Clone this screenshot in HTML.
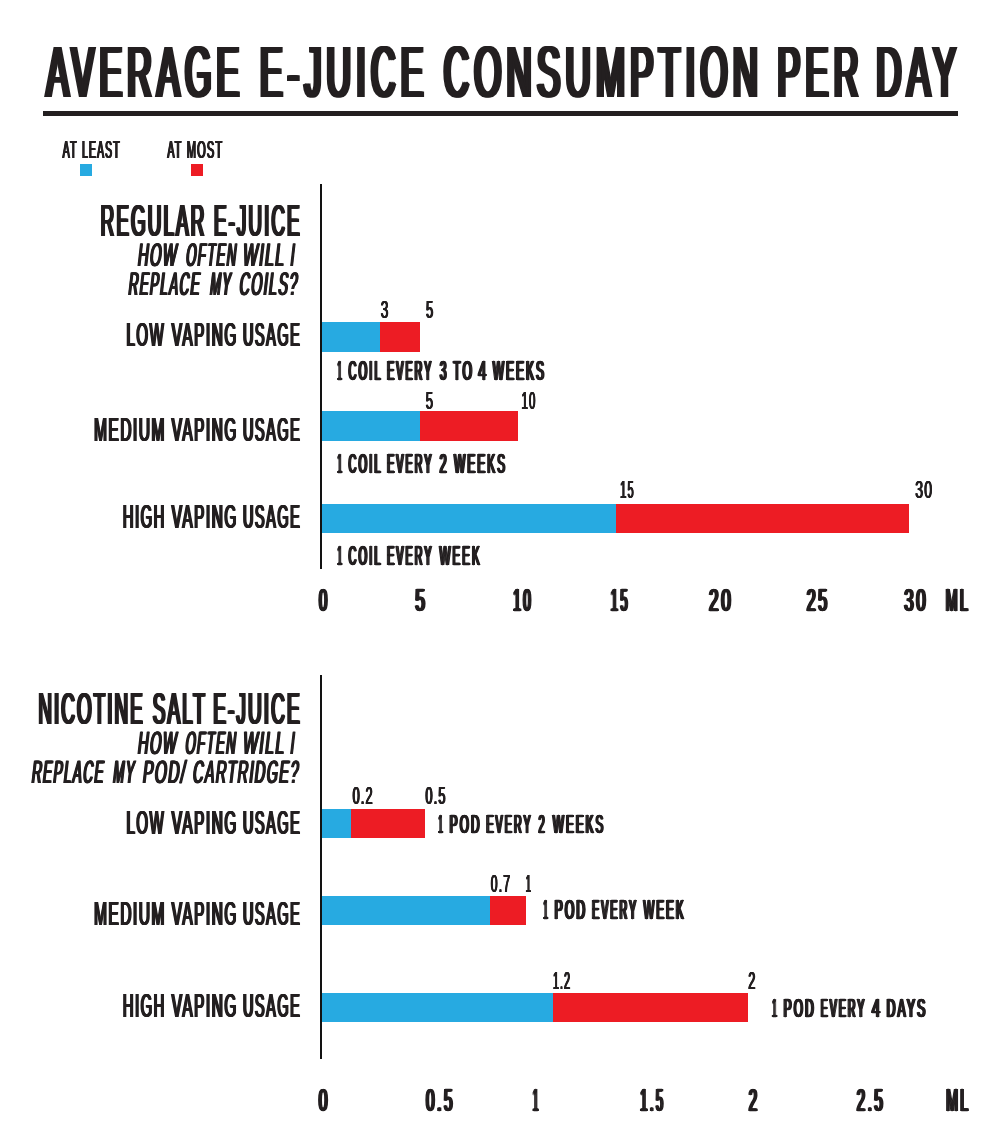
<!DOCTYPE html>
<html lang="en"><head><meta charset="utf-8"><title>Average E-Juice Consumption Per Day</title>
<style>
html,body{margin:0;padding:0;background:#fff}
body{width:1000px;height:1147px;position:relative;overflow:hidden;color:#231f20;font:bold 100px/100px "Liberation Sans",sans-serif}
.r{position:absolute}
.l{margin:0;font:inherit}
#txt{position:absolute;left:0;top:0;width:1000px;height:1147px;will-change:transform}
.l span{position:absolute;left:0;top:0;white-space:pre;transform-origin:0 0;display:block}
</style></head><body>
<div class="r" style="left:42.5px;top:111.4px;width:915px;height:4.6px;background:#231f20"></div>
<div class="r" style="left:80.2px;top:164.2px;width:12.2px;height:11.8px;background:#27aae1"></div>
<div class="r" style="left:190.6px;top:164.2px;width:12.4px;height:11.8px;background:#ed1c24"></div>
<div class="r" style="left:320.1px;top:184.2px;width:2.1px;height:385.2px;background:#121212"></div>
<div class="r" style="left:322px;top:322px;width:58px;height:29.75px;background:#27aae1"></div>
<div class="r" style="left:380px;top:322px;width:40px;height:29.75px;background:#ed1c24"></div>
<div class="r" style="left:322px;top:411.25px;width:98px;height:29.5px;background:#27aae1"></div>
<div class="r" style="left:420px;top:411.25px;width:98px;height:29.5px;background:#ed1c24"></div>
<div class="r" style="left:322px;top:503.9px;width:293.5px;height:29.35px;background:#27aae1"></div>
<div class="r" style="left:615.5px;top:503.9px;width:293.5px;height:29.35px;background:#ed1c24"></div>
<div class="r" style="left:320.1px;top:674.6px;width:2.1px;height:384.9px;background:#121212"></div>
<div class="r" style="left:322px;top:809px;width:28.75px;height:29px;background:#27aae1"></div>
<div class="r" style="left:350.75px;top:809px;width:73.75px;height:29px;background:#ed1c24"></div>
<div class="r" style="left:322px;top:895.75px;width:168px;height:29px;background:#27aae1"></div>
<div class="r" style="left:490px;top:895.75px;width:35.5px;height:29px;background:#ed1c24"></div>
<div class="r" style="left:322px;top:992.5px;width:230.5px;height:29.5px;background:#27aae1"></div>
<div class="r" style="left:552.5px;top:992.5px;width:195.2px;height:29.5px;background:#ed1c24"></div>
<div id="txt">
<div class="l"><span style="font-weight:normal;transform:matrix(0.3386,0,0,0.7267,46.15,35.23);letter-spacing:15.65px;text-shadow:6.65px 0 0,-6.65px 0 0,3.32px 0 0,-3.32px 0 0">AVERAGE</span> <span style="font-weight:normal;transform:matrix(0.3376,0,0,0.7267,260.05,35.23);letter-spacing:15.70px;text-shadow:6.66px 0 0,-6.66px 0 0,3.33px 0 0,-3.33px 0 0">E-JUICE</span> <span style="font-weight:normal;transform:matrix(0.3482,0,0,0.7267,443.77,35.23);letter-spacing:15.22px;text-shadow:6.46px 0 0,-6.46px 0 0,3.23px 0 0,-3.23px 0 0">CONSUMPTION</span> <span style="font-weight:normal;transform:matrix(0.3418,0,0,0.7267,777.46,35.23);letter-spacing:15.50px;text-shadow:6.58px 0 0,-6.58px 0 0,3.29px 0 0,-3.29px 0 0">PER</span> <span style="font-weight:normal;transform:matrix(0.3491,0,0,0.7267,876.37,35.23);letter-spacing:15.18px;text-shadow:6.44px 0 0,-6.44px 0 0,3.22px 0 0,-3.22px 0 0">DAY</span></div>
<div class="l"><span style="font-weight:normal;transform:matrix(0.1062,0,0,0.2471,62.59,136.80);letter-spacing:10.89px;text-shadow:6.24px 0 0,-6.24px 0 0,3.12px 0 0,-3.12px 0 0">AT</span> <span style="font-weight:normal;transform:matrix(0.1036,0,0,0.2471,82.12,136.80);letter-spacing:11.16px;text-shadow:6.40px 0 0,-6.40px 0 0,3.20px 0 0,-3.20px 0 0">LEAST</span></div>
<div class="l"><span style="font-weight:normal;transform:matrix(0.1062,0,0,0.2471,167.31,136.80);letter-spacing:10.88px;text-shadow:6.24px 0 0,-6.24px 0 0,3.12px 0 0,-3.12px 0 0">AT</span> <span style="font-weight:normal;transform:matrix(0.1100,0,0,0.2471,186.79,136.80);letter-spacing:10.50px;text-shadow:6.02px 0 0,-6.02px 0 0,3.01px 0 0,-3.01px 0 0">MOST</span></div>
<div class="l"><span style="font-weight:normal;transform:matrix(0.1889,0,0,0.4419,100.62,198.44);letter-spacing:10.94px;text-shadow:6.28px 0 0,-6.28px 0 0,3.14px 0 0,-3.14px 0 0">REGULAR</span> <span style="font-weight:normal;transform:matrix(0.1884,0,0,0.4419,213.94,198.44);letter-spacing:10.97px;text-shadow:6.29px 0 0,-6.29px 0 0,3.15px 0 0,-3.15px 0 0">E-JUICE</span></div>
<div class="l"><span style="font-weight:normal;transform:matrix(0.1452,0,-0.0373,0.3270,140.27,237.80);letter-spacing:10.54px;text-shadow:6.04px 0 0,-6.04px 0 0,3.02px 0 0,-3.02px 0 0">HOW</span> <span style="font-weight:normal;transform:matrix(0.1293,0,-0.0373,0.3270,188.47,237.80);letter-spacing:11.84px;text-shadow:6.79px 0 0,-6.79px 0 0,3.39px 0 0,-3.39px 0 0">OFTEN</span> <span style="font-weight:normal;transform:matrix(0.1567,0,-0.0373,0.3270,245.22,237.80);letter-spacing:9.76px;text-shadow:5.60px 0 0,-5.60px 0 0,2.80px 0 0,-2.80px 0 0">WILL</span> <span style="font-weight:normal;transform:matrix(0.1271,0,-0.0373,0.3270,293.00,237.80);letter-spacing:12.04px;text-shadow:6.91px 0 0,-6.91px 0 0,3.45px 0 0,-3.45px 0 0">I</span></div>
<div class="l"><span style="font-weight:normal;transform:matrix(0.1319,0,-0.0373,0.3270,130.96,266.95);letter-spacing:11.60px;text-shadow:6.65px 0 0,-6.65px 0 0,3.33px 0 0,-3.33px 0 0">REPLACE</span> <span style="font-weight:normal;transform:matrix(0.1256,0,-0.0373,0.3270,212.43,266.95);letter-spacing:12.18px;text-shadow:6.99px 0 0,-6.99px 0 0,3.49px 0 0,-3.49px 0 0">MY</span> <span style="font-weight:normal;transform:matrix(0.1405,0,-0.0373,0.3270,241.83,266.95);letter-spacing:10.89px;text-shadow:6.24px 0 0,-6.24px 0 0,3.12px 0 0,-3.12px 0 0">COILS?</span></div>
<div class="l"><span style="font-weight:normal;transform:matrix(0.1499,0,0,0.3328,126.51,317.71);letter-spacing:10.39px;text-shadow:5.96px 0 0,-5.96px 0 0,2.98px 0 0,-2.98px 0 0">LOW</span> <span style="font-weight:normal;transform:matrix(0.1532,0,0,0.3328,171.75,317.71);letter-spacing:10.17px;text-shadow:5.83px 0 0,-5.83px 0 0,2.92px 0 0,-2.92px 0 0">VAPING</span> <span style="font-weight:normal;transform:matrix(0.1443,0,0,0.3328,242.99,317.71);letter-spacing:10.79px;text-shadow:6.19px 0 0,-6.19px 0 0,3.10px 0 0,-3.10px 0 0">USAGE</span></div>
<div class="l"><span style="font-weight:normal;transform:matrix(0.1541,0,0,0.3328,94.05,412.71);letter-spacing:10.10px;text-shadow:5.79px 0 0,-5.79px 0 0,2.90px 0 0,-2.90px 0 0">MEDIUM</span> <span style="font-weight:normal;transform:matrix(0.1532,0,0,0.3328,171.75,412.71);letter-spacing:10.17px;text-shadow:5.83px 0 0,-5.83px 0 0,2.92px 0 0,-2.92px 0 0">VAPING</span> <span style="font-weight:normal;transform:matrix(0.1443,0,0,0.3328,242.99,412.71);letter-spacing:10.79px;text-shadow:6.19px 0 0,-6.19px 0 0,3.10px 0 0,-3.10px 0 0">USAGE</span></div>
<div class="l"><span style="font-weight:normal;transform:matrix(0.1474,0,0,0.3328,122.83,500.11);letter-spacing:10.57px;text-shadow:6.06px 0 0,-6.06px 0 0,3.03px 0 0,-3.03px 0 0">HIGH</span> <span style="font-weight:normal;transform:matrix(0.1532,0,0,0.3328,171.75,500.11);letter-spacing:10.17px;text-shadow:5.83px 0 0,-5.83px 0 0,2.92px 0 0,-2.92px 0 0">VAPING</span> <span style="font-weight:normal;transform:matrix(0.1443,0,0,0.3328,242.99,500.11);letter-spacing:10.79px;text-shadow:6.19px 0 0,-6.19px 0 0,3.10px 0 0,-3.10px 0 0">USAGE</span></div>
<div class="l"><span style="font-weight:normal;transform:matrix(0.1366,0,0,0.2471,380.70,296.80);letter-spacing:8.21px;text-shadow:4.11px 0 0,-4.11px 0 0,2.05px 0 0,-2.05px 0 0">3</span></div>
<div class="l"><span style="font-weight:normal;transform:matrix(0.1265,0,0,0.2471,426.08,296.80);letter-spacing:8.87px;text-shadow:4.43px 0 0,-4.43px 0 0,2.22px 0 0,-2.22px 0 0">5</span></div>
<div class="l"><span style="font-weight:normal;transform:matrix(0.1310,0,0,0.2442,425.80,387.84);letter-spacing:8.46px;text-shadow:4.23px 0 0,-4.23px 0 0,2.12px 0 0,-2.12px 0 0">5</span></div>
<div class="l"><span style="font-weight:normal;transform:matrix(0.1142,0,0,0.2442,521.47,387.84);letter-spacing:9.71px;text-shadow:4.86px 0 0,-4.86px 0 0,2.43px 0 0,-2.43px 0 0">10</span></div>
<div class="l"><span style="font-weight:normal;transform:matrix(0.1104,0,0,0.2456,620.18,476.72);letter-spacing:10.11px;text-shadow:5.05px 0 0,-5.05px 0 0,2.53px 0 0,-2.53px 0 0">15</span></div>
<div class="l"><span style="font-weight:normal;transform:matrix(0.1411,0,0,0.2456,915.25,476.72);letter-spacing:7.90px;text-shadow:3.95px 0 0,-3.95px 0 0,1.98px 0 0,-1.98px 0 0">30</span></div>
<div class="l"><span style="font-weight:normal;-webkit-text-stroke:2.27px;transform:matrix(0.0753,0,0,0.2708,337.54,357.17);letter-spacing:28.62px;text-shadow:14.31px 0 0,-14.31px 0 0,7.16px 0 0,-7.16px 0 0">1</span> <span style="font-weight:normal;-webkit-text-stroke:2.27px;transform:matrix(0.1094,0,0,0.2708,348.54,357.17);letter-spacing:19.70px;text-shadow:9.85px 0 0,-9.85px 0 0,4.93px 0 0,-4.93px 0 0">COIL</span> <span style="font-weight:normal;-webkit-text-stroke:2.27px;transform:matrix(0.1052,0,0,0.2708,387.16,357.17);letter-spacing:20.50px;text-shadow:10.25px 0 0,-10.25px 0 0,5.12px 0 0,-5.12px 0 0">EVERY</span> <span style="font-weight:normal;-webkit-text-stroke:2.27px;transform:matrix(0.1168,0,0,0.2708,439.90,357.17);letter-spacing:18.47px;text-shadow:9.23px 0 0,-9.23px 0 0,4.62px 0 0,-4.62px 0 0">3</span> <span style="font-weight:normal;-webkit-text-stroke:2.27px;transform:matrix(0.1203,0,0,0.2708,453.27,357.17);letter-spacing:17.93px;text-shadow:8.96px 0 0,-8.96px 0 0,4.48px 0 0,-4.48px 0 0">TO</span> <span style="font-weight:normal;-webkit-text-stroke:2.27px;transform:matrix(0.1440,0,0,0.2708,478.25,357.17);letter-spacing:14.97px;text-shadow:7.49px 0 0,-7.49px 0 0,3.74px 0 0,-3.74px 0 0">4</span> <span style="font-weight:normal;-webkit-text-stroke:2.27px;transform:matrix(0.1174,0,0,0.2708,492.94,357.17);letter-spacing:18.36px;text-shadow:9.18px 0 0,-9.18px 0 0,4.59px 0 0,-4.59px 0 0">WEEKS</span></div>
<div class="l"><span style="font-weight:normal;-webkit-text-stroke:2.27px;transform:matrix(0.0791,0,0,0.2673,337.51,450.47);letter-spacing:26.90px;text-shadow:13.45px 0 0,-13.45px 0 0,6.72px 0 0,-6.72px 0 0">1</span> <span style="font-weight:normal;-webkit-text-stroke:2.27px;transform:matrix(0.1097,0,0,0.2673,348.53,450.47);letter-spacing:19.39px;text-shadow:9.70px 0 0,-9.70px 0 0,4.85px 0 0,-4.85px 0 0">COIL</span> <span style="font-weight:normal;-webkit-text-stroke:2.27px;transform:matrix(0.1060,0,0,0.2673,387.15,450.47);letter-spacing:20.08px;text-shadow:10.04px 0 0,-10.04px 0 0,5.02px 0 0,-5.02px 0 0">EVERY</span> <span style="font-weight:normal;-webkit-text-stroke:2.27px;transform:matrix(0.1246,0,0,0.2673,439.67,450.47);letter-spacing:17.08px;text-shadow:8.54px 0 0,-8.54px 0 0,4.27px 0 0,-4.27px 0 0">2</span> <span style="font-weight:normal;-webkit-text-stroke:2.27px;transform:matrix(0.1174,0,0,0.2673,454.15,450.47);letter-spacing:18.13px;text-shadow:9.07px 0 0,-9.07px 0 0,4.53px 0 0,-4.53px 0 0">WEEKS</span></div>
<div class="l"><span style="font-weight:normal;-webkit-text-stroke:2.27px;transform:matrix(0.0791,0,0,0.2673,337.51,541.97);letter-spacing:26.90px;text-shadow:13.45px 0 0,-13.45px 0 0,6.72px 0 0,-6.72px 0 0">1</span> <span style="font-weight:normal;-webkit-text-stroke:2.27px;transform:matrix(0.1097,0,0,0.2673,348.53,541.97);letter-spacing:19.39px;text-shadow:9.70px 0 0,-9.70px 0 0,4.85px 0 0,-4.85px 0 0">COIL</span> <span style="font-weight:normal;-webkit-text-stroke:2.27px;transform:matrix(0.1060,0,0,0.2673,387.15,541.97);letter-spacing:20.08px;text-shadow:10.04px 0 0,-10.04px 0 0,5.02px 0 0,-5.02px 0 0">EVERY</span> <span style="font-weight:normal;-webkit-text-stroke:2.27px;transform:matrix(0.1142,0,0,0.2673,439.62,541.97);letter-spacing:18.63px;text-shadow:9.31px 0 0,-9.31px 0 0,4.66px 0 0,-4.66px 0 0">WEEK</span></div>
<div class="l"><span style="font-weight:normal;-webkit-text-stroke:2.27px;transform:matrix(0.1484,0,0,0.3166,318.99,583.98);letter-spacing:16.98px;text-shadow:8.49px 0 0,-8.49px 0 0,4.25px 0 0,-4.25px 0 0">0</span></div>
<div class="l"><span style="font-weight:normal;-webkit-text-stroke:2.27px;transform:matrix(0.1721,0,0,0.3166,415.37,583.98);letter-spacing:14.65px;text-shadow:7.32px 0 0,-7.32px 0 0,3.66px 0 0,-3.66px 0 0">5</span></div>
<div class="l"><span style="font-weight:normal;-webkit-text-stroke:2.27px;transform:matrix(0.1362,0,0,0.3166,513.19,583.98);letter-spacing:18.50px;text-shadow:9.25px 0 0,-9.25px 0 0,4.63px 0 0,-4.63px 0 0">10</span></div>
<div class="l"><span style="font-weight:normal;-webkit-text-stroke:2.27px;transform:matrix(0.1272,0,0,0.3166,610.82,583.98);letter-spacing:19.81px;text-shadow:9.91px 0 0,-9.91px 0 0,4.95px 0 0,-4.95px 0 0">15</span></div>
<div class="l"><span style="font-weight:normal;-webkit-text-stroke:2.27px;transform:matrix(0.1718,0,0,0.3166,709.10,583.98);letter-spacing:14.67px;text-shadow:7.33px 0 0,-7.33px 0 0,3.67px 0 0,-3.67px 0 0">20</span></div>
<div class="l"><span style="font-weight:normal;-webkit-text-stroke:2.27px;transform:matrix(0.1613,0,0,0.3166,806.69,583.98);letter-spacing:15.63px;text-shadow:7.81px 0 0,-7.81px 0 0,3.91px 0 0,-3.91px 0 0">25</span></div>
<div class="l"><span style="font-weight:normal;-webkit-text-stroke:2.27px;transform:matrix(0.1696,0,0,0.3166,904.22,583.98);letter-spacing:14.86px;text-shadow:7.43px 0 0,-7.43px 0 0,3.72px 0 0,-3.72px 0 0">30</span></div>
<div class="l"><span style="font-weight:normal;-webkit-text-stroke:2.27px;transform:matrix(0.1411,0,0,0.3166,945.82,583.98);letter-spacing:17.86px;text-shadow:8.93px 0 0,-8.93px 0 0,4.46px 0 0,-4.46px 0 0">ML</span></div>
<div class="l"><span style="font-weight:normal;transform:matrix(0.1880,0,0,0.4433,38.36,686.57);letter-spacing:11.03px;text-shadow:6.33px 0 0,-6.33px 0 0,3.16px 0 0,-3.16px 0 0">NICOTINE</span> <span style="font-weight:normal;transform:matrix(0.1890,0,0,0.4433,152.76,686.57);letter-spacing:10.97px;text-shadow:6.29px 0 0,-6.29px 0 0,3.15px 0 0,-3.15px 0 0">SALT</span> <span style="font-weight:normal;transform:matrix(0.1900,0,0,0.4433,213.28,686.57);letter-spacing:10.92px;text-shadow:6.26px 0 0,-6.26px 0 0,3.13px 0 0,-3.13px 0 0">E-JUICE</span></div>
<div class="l"><span style="font-weight:normal;transform:matrix(0.1447,0,-0.0368,0.3227,140.24,726.27);letter-spacing:10.43px;text-shadow:5.98px 0 0,-5.98px 0 0,2.99px 0 0,-2.99px 0 0">HOW</span> <span style="font-weight:normal;transform:matrix(0.1300,0,-0.0368,0.3227,187.69,726.27);letter-spacing:11.61px;text-shadow:6.66px 0 0,-6.66px 0 0,3.33px 0 0,-3.33px 0 0">OFTEN</span> <span style="font-weight:normal;transform:matrix(0.1563,0,-0.0368,0.3227,245.34,726.27);letter-spacing:9.66px;text-shadow:5.54px 0 0,-5.54px 0 0,2.77px 0 0,-2.77px 0 0">WILL</span> <span style="font-weight:normal;transform:matrix(0.1203,0,-0.0368,0.3227,292.96,726.27);letter-spacing:12.54px;text-shadow:7.19px 0 0,-7.19px 0 0,3.60px 0 0,-3.60px 0 0">I</span></div>
<div class="l"><span style="font-weight:normal;transform:matrix(0.1336,0,-0.0368,0.3227,34.14,755.17);letter-spacing:11.30px;text-shadow:6.48px 0 0,-6.48px 0 0,3.24px 0 0,-3.24px 0 0">REPLACE</span> <span style="font-weight:normal;transform:matrix(0.1307,0,-0.0368,0.3227,115.47,755.17);letter-spacing:11.55px;text-shadow:6.63px 0 0,-6.63px 0 0,3.31px 0 0,-3.31px 0 0">MY</span> <span style="font-weight:normal;transform:matrix(0.1538,0,-0.0368,0.3227,145.20,755.17);letter-spacing:9.82px;text-shadow:5.63px 0 0,-5.63px 0 0,2.81px 0 0,-2.81px 0 0">POD/</span> <span style="font-weight:normal;transform:matrix(0.1423,0,-0.0368,0.3227,195.35,755.17);letter-spacing:10.61px;text-shadow:6.08px 0 0,-6.08px 0 0,3.04px 0 0,-3.04px 0 0">CARTRIDGE?</span></div>
<div class="l"><span style="font-weight:normal;transform:matrix(0.1499,0,0,0.3328,126.51,806.01);letter-spacing:10.39px;text-shadow:5.96px 0 0,-5.96px 0 0,2.98px 0 0,-2.98px 0 0">LOW</span> <span style="font-weight:normal;transform:matrix(0.1532,0,0,0.3328,171.75,806.01);letter-spacing:10.17px;text-shadow:5.83px 0 0,-5.83px 0 0,2.92px 0 0,-2.92px 0 0">VAPING</span> <span style="font-weight:normal;transform:matrix(0.1443,0,0,0.3328,242.99,806.01);letter-spacing:10.79px;text-shadow:6.19px 0 0,-6.19px 0 0,3.10px 0 0,-3.10px 0 0">USAGE</span></div>
<div class="l"><span style="font-weight:normal;transform:matrix(0.1541,0,0,0.3328,94.05,896.91);letter-spacing:10.10px;text-shadow:5.79px 0 0,-5.79px 0 0,2.90px 0 0,-2.90px 0 0">MEDIUM</span> <span style="font-weight:normal;transform:matrix(0.1532,0,0,0.3328,171.75,896.91);letter-spacing:10.17px;text-shadow:5.83px 0 0,-5.83px 0 0,2.92px 0 0,-2.92px 0 0">VAPING</span> <span style="font-weight:normal;transform:matrix(0.1443,0,0,0.3328,242.99,896.91);letter-spacing:10.79px;text-shadow:6.19px 0 0,-6.19px 0 0,3.10px 0 0,-3.10px 0 0">USAGE</span></div>
<div class="l"><span style="font-weight:normal;transform:matrix(0.1474,0,0,0.3328,122.83,989.21);letter-spacing:10.57px;text-shadow:6.06px 0 0,-6.06px 0 0,3.03px 0 0,-3.03px 0 0">HIGH</span> <span style="font-weight:normal;transform:matrix(0.1532,0,0,0.3328,171.75,989.21);letter-spacing:10.17px;text-shadow:5.83px 0 0,-5.83px 0 0,2.92px 0 0,-2.92px 0 0">VAPING</span> <span style="font-weight:normal;transform:matrix(0.1443,0,0,0.3328,242.99,989.21);letter-spacing:10.79px;text-shadow:6.19px 0 0,-6.19px 0 0,3.10px 0 0,-3.10px 0 0">USAGE</span></div>
<div class="l"><span style="font-weight:normal;transform:matrix(0.1281,0,0,0.2471,352.57,782.60);letter-spacing:8.76px;text-shadow:4.38px 0 0,-4.38px 0 0,2.19px 0 0,-2.19px 0 0">0.2</span></div>
<div class="l"><span style="font-weight:normal;transform:matrix(0.1279,0,0,0.2471,425.43,782.60);letter-spacing:8.77px;text-shadow:4.39px 0 0,-4.39px 0 0,2.19px 0 0,-2.19px 0 0">0.5</span></div>
<div class="l"><span style="font-weight:normal;transform:matrix(0.1223,0,0,0.2471,490.78,871.20);letter-spacing:9.18px;text-shadow:4.59px 0 0,-4.59px 0 0,2.29px 0 0,-2.29px 0 0">0.7</span></div>
<div class="l"><span style="font-weight:normal;transform:matrix(0.0888,0,0,0.2471,525.86,871.20);letter-spacing:12.63px;text-shadow:6.32px 0 0,-6.32px 0 0,3.16px 0 0,-3.16px 0 0">1</span></div>
<div class="l"><span style="font-weight:normal;transform:matrix(0.1061,0,0,0.2485,552.98,967.57);letter-spacing:10.64px;text-shadow:5.32px 0 0,-5.32px 0 0,2.66px 0 0,-2.66px 0 0">1.2</span></div>
<div class="l"><span style="font-weight:normal;transform:matrix(0.1250,0,0,0.2485,748.33,967.57);letter-spacing:9.03px;text-shadow:4.51px 0 0,-4.51px 0 0,2.26px 0 0,-2.26px 0 0">2</span></div>
<div class="l"><span style="font-weight:normal;-webkit-text-stroke:2.27px;transform:matrix(0.0745,0,0,0.2638,438.43,811.03);letter-spacing:28.20px;text-shadow:14.10px 0 0,-14.10px 0 0,7.05px 0 0,-7.05px 0 0">1</span> <span style="font-weight:normal;-webkit-text-stroke:2.27px;transform:matrix(0.1186,0,0,0.2638,449.67,811.03);letter-spacing:17.71px;text-shadow:8.85px 0 0,-8.85px 0 0,4.43px 0 0,-4.43px 0 0">POD</span> <span style="font-weight:normal;-webkit-text-stroke:2.27px;transform:matrix(0.1063,0,0,0.2638,486.38,811.03);letter-spacing:19.75px;text-shadow:9.87px 0 0,-9.87px 0 0,4.94px 0 0,-4.94px 0 0">EVERY</span> <span style="font-weight:normal;-webkit-text-stroke:2.27px;transform:matrix(0.1113,0,0,0.2638,538.56,811.03);letter-spacing:18.87px;text-shadow:9.44px 0 0,-9.44px 0 0,4.72px 0 0,-4.72px 0 0">2</span> <span style="font-weight:normal;-webkit-text-stroke:2.27px;transform:matrix(0.1161,0,0,0.2638,552.92,811.03);letter-spacing:18.10px;text-shadow:9.05px 0 0,-9.05px 0 0,4.52px 0 0,-4.52px 0 0">WEEKS</span></div>
<div class="l"><span style="font-weight:normal;-webkit-text-stroke:2.27px;transform:matrix(0.0752,0,0,0.2708,543.48,895.92);letter-spacing:28.68px;text-shadow:14.34px 0 0,-14.34px 0 0,7.17px 0 0,-7.17px 0 0">1</span> <span style="font-weight:normal;-webkit-text-stroke:2.27px;transform:matrix(0.1207,0,0,0.2708,554.62,895.92);letter-spacing:17.86px;text-shadow:8.93px 0 0,-8.93px 0 0,4.47px 0 0,-4.47px 0 0">POD</span> <span style="font-weight:normal;-webkit-text-stroke:2.27px;transform:matrix(0.1046,0,0,0.2708,592.18,895.92);letter-spacing:20.61px;text-shadow:10.30px 0 0,-10.30px 0 0,5.15px 0 0,-5.15px 0 0">EVERY</span> <span style="font-weight:normal;-webkit-text-stroke:2.27px;transform:matrix(0.1138,0,0,0.2708,643.53,895.92);letter-spacing:18.94px;text-shadow:9.47px 0 0,-9.47px 0 0,4.73px 0 0,-4.73px 0 0">WEEK</span></div>
<div class="l"><span style="font-weight:normal;-webkit-text-stroke:2.27px;transform:matrix(0.0771,0,0,0.2659,772.34,994.59);letter-spacing:27.47px;text-shadow:13.73px 0 0,-13.73px 0 0,6.87px 0 0,-6.87px 0 0">1</span> <span style="font-weight:normal;-webkit-text-stroke:2.27px;transform:matrix(0.1190,0,0,0.2659,783.67,994.59);letter-spacing:17.79px;text-shadow:8.90px 0 0,-8.90px 0 0,4.45px 0 0,-4.45px 0 0">POD</span> <span style="font-weight:normal;-webkit-text-stroke:2.27px;transform:matrix(0.1039,0,0,0.2659,820.78,994.59);letter-spacing:20.38px;text-shadow:10.19px 0 0,-10.19px 0 0,5.09px 0 0,-5.09px 0 0">EVERY</span> <span style="font-weight:normal;-webkit-text-stroke:2.27px;transform:matrix(0.1463,0,0,0.2659,871.88,994.59);letter-spacing:14.47px;text-shadow:7.23px 0 0,-7.23px 0 0,3.62px 0 0,-3.62px 0 0">4</span> <span style="font-weight:normal;-webkit-text-stroke:2.27px;transform:matrix(0.1221,0,0,0.2659,886.59,994.59);letter-spacing:17.33px;text-shadow:8.67px 0 0,-8.67px 0 0,4.33px 0 0,-4.33px 0 0">DAYS</span></div>
<div class="l"><span style="font-weight:normal;-webkit-text-stroke:2.27px;transform:matrix(0.1574,0,0,0.3166,318.69,1083.98);letter-spacing:16.01px;text-shadow:8.01px 0 0,-8.01px 0 0,4.00px 0 0,-4.00px 0 0">0</span></div>
<div class="l"><span style="font-weight:normal;-webkit-text-stroke:2.27px;transform:matrix(0.1531,0,0,0.3166,426.10,1083.98);letter-spacing:16.46px;text-shadow:8.23px 0 0,-8.23px 0 0,4.11px 0 0,-4.11px 0 0">0.5</span></div>
<div class="l"><span style="font-weight:normal;-webkit-text-stroke:2.27px;transform:matrix(0.0921,0,0,0.3166,533.11,1083.98);letter-spacing:27.35px;text-shadow:13.67px 0 0,-13.67px 0 0,6.84px 0 0,-6.84px 0 0">1</span></div>
<div class="l"><span style="font-weight:normal;-webkit-text-stroke:2.27px;transform:matrix(0.1274,0,0,0.3166,640.33,1083.98);letter-spacing:19.78px;text-shadow:9.89px 0 0,-9.89px 0 0,4.94px 0 0,-4.94px 0 0">1.5</span></div>
<div class="l"><span style="font-weight:normal;-webkit-text-stroke:2.27px;transform:matrix(0.1515,0,0,0.3166,748.80,1083.98);letter-spacing:16.64px;text-shadow:8.32px 0 0,-8.32px 0 0,4.16px 0 0,-4.16px 0 0">2</span></div>
<div class="l"><span style="font-weight:normal;-webkit-text-stroke:2.27px;transform:matrix(0.1504,0,0,0.3166,856.80,1083.98);letter-spacing:16.75px;text-shadow:8.38px 0 0,-8.38px 0 0,4.19px 0 0,-4.19px 0 0">2.5</span></div>
<div class="l"><span style="font-weight:normal;-webkit-text-stroke:2.27px;transform:matrix(0.1405,0,0,0.3166,946.14,1083.98);letter-spacing:17.94px;text-shadow:8.97px 0 0,-8.97px 0 0,4.49px 0 0,-4.49px 0 0">ML</span></div>
</div>
</body></html>
